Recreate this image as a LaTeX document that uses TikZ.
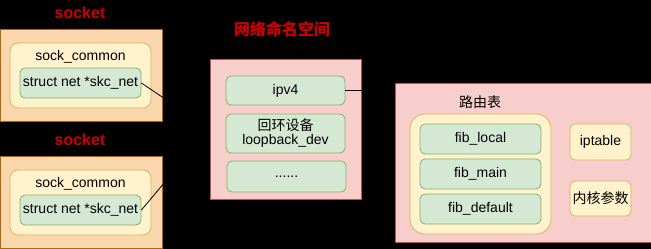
\documentclass[tikz,border=0pt]{standalone}
\usepackage{fontspec}
\setmainfont{Liberation Sans}
\newfontfamily\cjk{Noto Sans CJK SC}
\usetikzlibrary{positioning}

% draw.io palette
\definecolor{sockfill}{HTML}{FAD7AC}
\definecolor{sockline}{HTML}{B46504}
\definecolor{yelfill}{HTML}{FFF2CC}
\definecolor{yelline}{HTML}{D6B656}
\definecolor{grnfill}{HTML}{D5E8D4}
\definecolor{grnline}{HTML}{82B366}
\definecolor{redfill}{HTML}{F8CECC}
\definecolor{redline}{HTML}{B85450}
\definecolor{titlered}{HTML}{CC0000}

\tikzset{
  box/.style={draw, line width=0.8pt, inner sep=0pt, align=center},
  sockbox/.style={box, draw=sockline, fill=sockfill},
  nsbox/.style={box, draw=redline, fill=redfill},
  yelbox/.style={box, draw=yelline, fill=yelfill, rounded corners=8pt},
  grnbox/.style={box, draw=grnline, fill=grnfill, rounded corners=5pt},
  title/.style={text=titlered, font=\fontsize{16}{18}\selectfont\bfseries},
  lbl/.style={inner sep=0pt}
}

\begin{document}
\begin{tikzpicture}[x=1pt, y=-1pt, font=\fontsize{14}{16}\selectfont]

  % background
  \fill[black] (0,0) rectangle (651,249);
  \useasboundingbox (0,0) rectangle (651,249);

  % the two sockets
  \foreach \i/\dy in {1/0, 2/127} {
    \node[title] (title\i) at (80,13+\dy) {socket};
    \node[sockbox, minimum width=162pt, minimum height=92pt] (sock\i) at (81,75+\dy) {};
    \node[yelbox, minimum width=141pt, minimum height=65pt] (common\i) at (80.5,75.5+\dy) {};
    \node[lbl] (commonlbl\i) at (80.5,57+\dy) {sock\_common};
    \node[grnbox, minimum width=121pt, minimum height=30pt] (net\i) at (80.5,83+\dy) {struct net *skc\_net};
  }

  % network namespace
  \node[title] (nstitle) at (282,29) {\cjk 网络命名空间};
  \node[nsbox, minimum width=151pt, minimum height=140pt] (ns) at (285.5,129) {};
  \node[grnbox, minimum width=119pt, minimum height=29pt] (ipv4) at (285.5,90.5) {ipv4};
  \node[grnbox, minimum width=119pt, minimum height=39pt] (loop) at (285.5,133.5)
    {{\cjk 回环设备}\\[-2pt]loopback\_dev};
  \node[grnbox, minimum width=119pt, minimum height=31pt] (more) at (286.5,176.5) {......};

  % routing part
  \node[nsbox, minimum width=256pt, minimum height=159pt] (route) at (523,162.5) {};
  \node[lbl] (routelbl) at (480,102) {\cjk 路由表};
  \node[yelbox, rounded corners=15pt, minimum width=141pt, minimum height=120pt] (rtab) at (480.5,174) {};
  \foreach \n/\t/\y in {local/fib\_local/139, main/fib\_main/174, default/fib\_default/209}
    \node[grnbox, minimum width=121pt, minimum height=30pt] (fib\n) at (480.5,\y) {\t};
  \node[yelbox, rounded corners=5pt, minimum width=61pt, minimum height=36pt] (iptable) at (600.5,142) {iptable};
  \node[yelbox, rounded corners=5pt, minimum width=61pt, minimum height=35pt] (kparam) at (600.5,198.5) {\cjk 内核参数};

  % connectors
  \draw[line width=0.8pt] (net1.east) -- (ns.west);
  \draw[line width=0.8pt] (net2.east) -- (ns.west);
  \draw[line width=0.8pt] (ipv4.east) -- ++(25,0) |- (route.west);

\end{tikzpicture}
\end{document}
